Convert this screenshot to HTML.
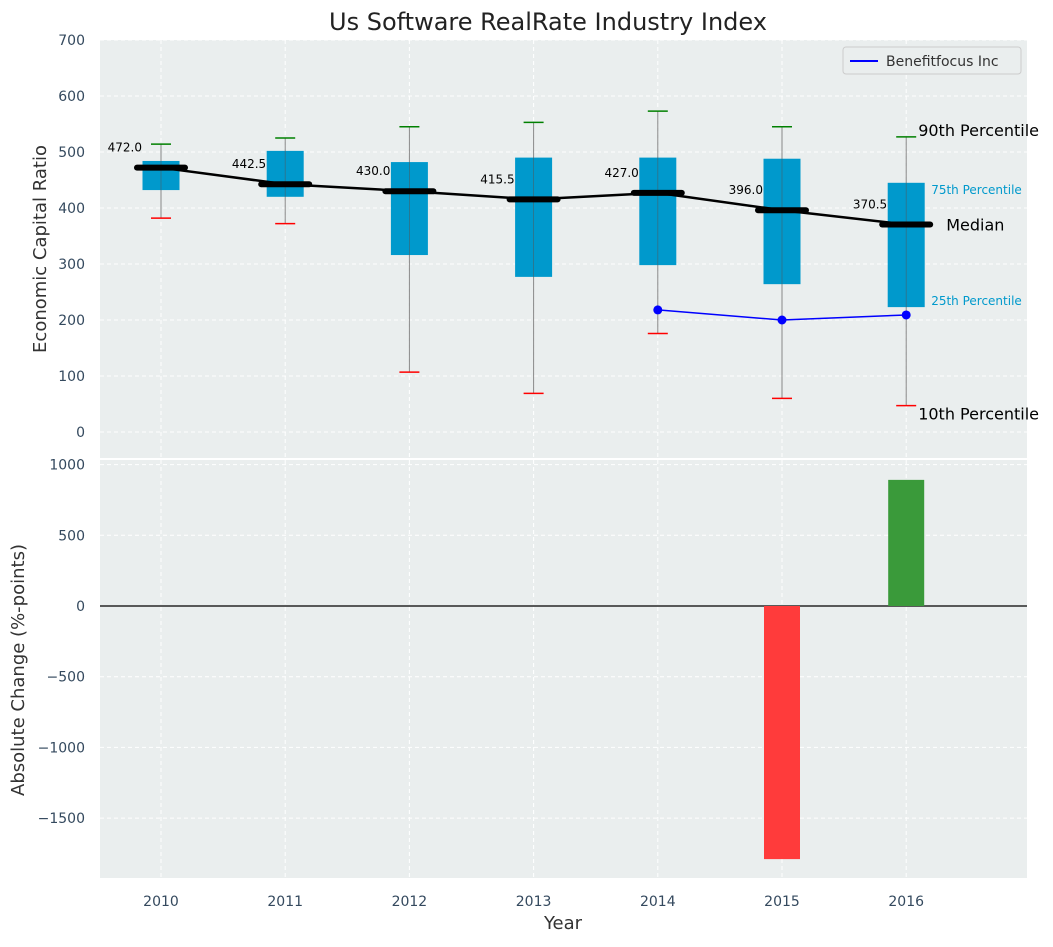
<!DOCTYPE html>
<html><head><meta charset="utf-8"><style>
body{margin:0;background:#fff;font-family:"Liberation Sans","DejaVu Sans",sans-serif}
svg text{font-family:"DejaVu Sans","Liberation Sans",sans-serif}
</style></head><body>
<svg id="c" width="1053" height="942" xmlns="http://www.w3.org/2000/svg">
<rect width="1053" height="942" fill="#fff"/>
<text x="548" y="30" text-anchor="middle" font-size="24" fill="#222">Us Software RealRate Industry Index</text>
<rect x="100" y="40" width="927" height="418" fill="#eaeeee"/>
<rect x="100" y="460" width="927" height="418" fill="#eaeeee"/>
<g id="topg"></g><g id="botg"></g>
<text x="46" y="249" transform="rotate(-90 46 249)" text-anchor="middle" font-size="18" fill="#333">Economic Capital Ratio</text>
<text x="24" y="670" transform="rotate(-90 24 670)" text-anchor="middle" font-size="18" fill="#333">Absolute Change (%-points)</text>
<text x="563" y="929" text-anchor="middle" font-size="18" fill="#333">Year</text>
<g>
<rect x="843" y="47" width="178" height="27" rx="3" fill="#eaeeee" stroke="#ccc"/>
<line x1="850" y1="61" x2="878" y2="61" stroke="#0000ff" stroke-width="2"/>
<text x="886" y="66" font-size="14" fill="#333">Benefitfocus Inc</text>
</g>
</svg>
<script>
const years=['2010','2011','2012','2013','2014','2015','2016'];
const p10=[382,372,107,69,176,60,47];
const q25=[432,420,316,277,298,264,223];
const med=[472,442.5,430,415.5,427,396,370.5];
const q75=[484,502,482,490,490,488,445];
const p90=[514,525,545,553,573,545,527];
const compYears=['2014','2015','2016'];
const compVals=[218,200,209];
const changeYears=['2015','2016'];
const changeVals=[-1790,892];
const topTicks=[0,100,200,300,400,500,600,700];
const botTicks=[-1500,-1000,-500,0,500,1000];
const NS='http://www.w3.org/2000/svg';
const TC='#34495e';
const xs=i=>161+i*124.2;
const yT=v=>432-v*0.56;
const yB=v=>606-v*0.1414;
function mk(p,t,a){const e=document.createElementNS(NS,t);for(const k in a)e.setAttribute(k,a[k]);p.appendChild(e);return e;}
const topG=document.getElementById('topg'),botG=document.getElementById('botg');
topTicks.forEach(v=>{mk(topG,'line',{x1:100,x2:1027,y1:yT(v),y2:yT(v),stroke:'#fff','stroke-dasharray':'4,3'});
const t=mk(topG,'text',{x:85,y:yT(v)+5,'text-anchor':'end','font-size':14,fill:TC});t.textContent=v;

});
botTicks.forEach(v=>{mk(botG,'line',{x1:100,x2:1027,y1:yB(v),y2:yB(v),stroke:'#fff','stroke-dasharray':'4,3'});
const t=mk(botG,'text',{x:85,y:yB(v)+5,'text-anchor':'end','font-size':14,fill:TC});t.textContent=String(v).replace('-','\u2212');

});
years.forEach((y,i)=>{const x=xs(i);
mk(topG,'line',{x1:x,x2:x,y1:40,y2:458,stroke:'#fff','stroke-dasharray':'4,3'});
mk(botG,'line',{x1:x,x2:x,y1:460,y2:878,stroke:'#fff','stroke-dasharray':'4,3'});
const t=mk(botG,'text',{x:x,y:906,'text-anchor':'middle','font-size':14,fill:TC});t.textContent=y;

});
mk(botG,'line',{x1:100,x2:1027,y1:yB(0),y2:yB(0),stroke:'#000','stroke-width':1.2});
years.forEach((y,i)=>{const x=xs(i);
const g=mk(topG,'g',{});


mk(g,'line',{x1:x,x2:x,y1:yT(p10[i]),y2:yT(p90[i]),stroke:'#888','stroke-width':1});
mk(g,'rect',{x:x-18.5,y:yT(q75[i]),width:37,height:yT(q25[i])-yT(q75[i]),fill:'#0099cc'});
mk(g,'line',{x1:x,x2:x,y1:yT(q75[i]),y2:yT(q25[i]),stroke:'#555','stroke-width':0.8,opacity:0.6});
mk(g,'line',{x1:x-10,x2:x+10,y1:yT(p90[i]),y2:yT(p90[i]),stroke:'green','stroke-width':1.5});
mk(g,'line',{x1:x-10,x2:x+10,y1:yT(p10[i]),y2:yT(p10[i]),stroke:'red','stroke-width':1.5});
});
mk(topG,'polyline',{points:med.map((v,i)=>xs(i)+','+yT(v)).join(' '),fill:'none',stroke:'#000','stroke-width':2.5});
years.forEach((y,i)=>{const x=xs(i);
const l=mk(topG,'line',{x1:x-24,x2:x+24,y1:yT(med[i]),y2:yT(med[i]),stroke:'#000','stroke-width':6,'stroke-linecap':'round'});


const t=mk(topG,'text',{x:x-19,y:yT(med[i])-16,'text-anchor':'end','font-size':12,fill:'#000'});t.textContent=med[i].toFixed(1);

});
const ci=compYears.map(y=>years.indexOf(y));
const pl=mk(topG,'polyline',{points:ci.map((k,j)=>xs(k)+','+yT(compVals[j])).join(' '),fill:'none',stroke:'#0000ff','stroke-width':1.5});


ci.forEach((k,j)=>{const c=mk(topG,'circle',{cx:xs(k),cy:yT(compVals[j]),r:4.5,fill:'#0000ff'});

});
const L=years.length-1,lx=xs(L);
function ann(txt,x,y,sz,col,name){const t=mk(topG,'text',{x:x,y:y,'font-size':sz,fill:col});t.textContent=txt;

}
ann('90th Percentile',lx+12,yT(p90[L])-1,16,'#000','p90-annotation');
ann('75th Percentile',lx+25,yT(q75[L])+11,12,'#0099cc','p75-annotation');
ann('Median',lx+40,yT(med[L])+6,16,'#000','median-annotation');
ann('25th Percentile',lx+25,yT(q25[L])-2,12,'#0099cc','p25-annotation');
ann('10th Percentile',lx+12,yT(p10[L])+14,16,'#000','p10-annotation');
changeYears.forEach((y,j)=>{const x=xs(years.indexOf(y)),v=changeVals[j];
const r=mk(botG,'rect',{x:x-18,y:Math.min(yB(v),yB(0)),width:36,height:Math.abs(yB(v)-yB(0)),fill:v<0?'#ff3b3b':'#3a9a3a'});

});
</script>
</body></html>
